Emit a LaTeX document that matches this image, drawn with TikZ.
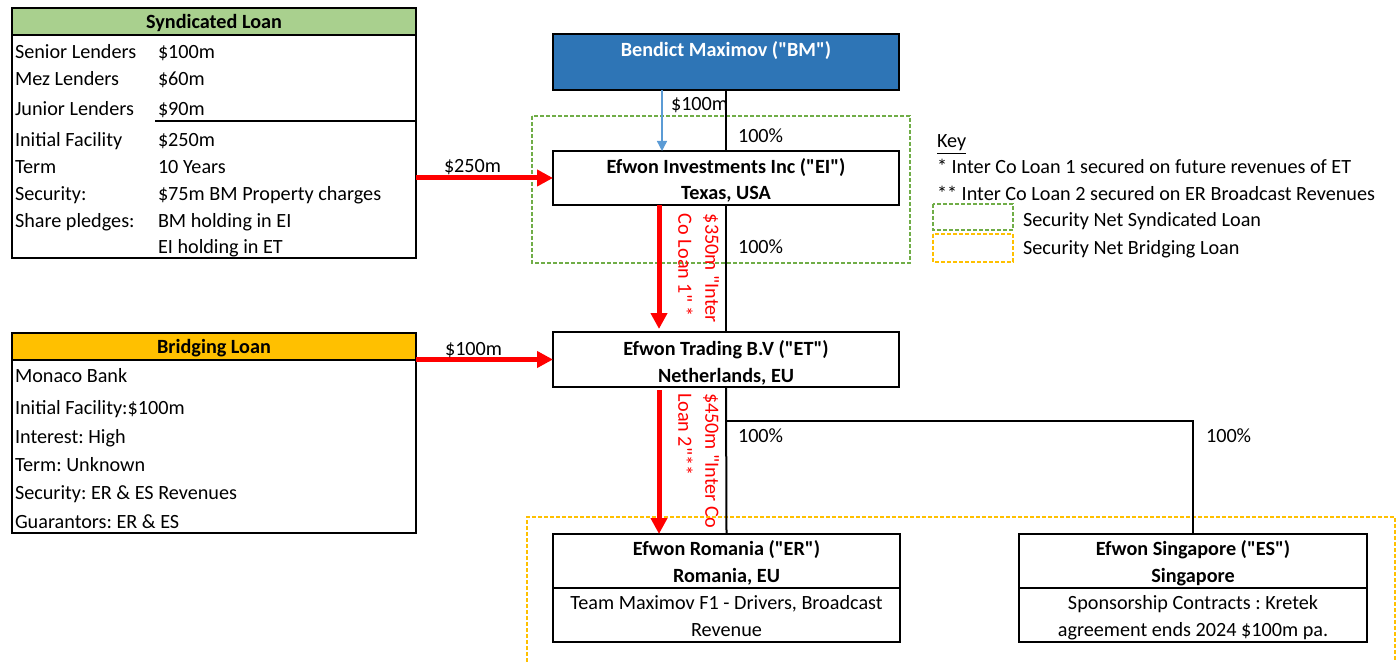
\documentclass[tikz,border=0pt]{standalone}
\usepackage{fontspec}
\setmainfont{Carlito}
\newfontfamily\calfont{Carlito}
\frenchspacing
\usetikzlibrary{arrows.meta,calc}
\definecolor{synhead}{HTML}{A9D08E}
\definecolor{brihead}{HTML}{FFC000}
\definecolor{bmfill}{HTML}{2E75B6}
\definecolor{bluearr}{HTML}{5B9BD5}
\definecolor{netgreen}{HTML}{70AD47}
\definecolor{netorange}{HTML}{FFC000}
\begin{document}
\begin{tikzpicture}[x=0.5pt,y=-0.5pt,
  every node/.style={font=\calfont\fontsize{10.1pt}{13pt}\selectfont, inner sep=0pt, outer sep=0pt},
  box/.style={draw=black, line width=1pt, inner sep=0pt},
  txt/.style={anchor=west, text height=8.5pt, text depth=2pt},
  ctxt/.style={anchor=center, text height=8.5pt, text depth=2pt},
  bigarrow/.style={draw=red, line width=2.5pt, -{Triangle[length=8pt,width=8pt]}},
  thinarrow/.style={draw=bluearr, line width=0.7pt, -{Triangle[length=5pt,width=5pt]}},
  tree/.style={draw=black, line width=1pt},
  rtxt/.style={rotate=-90, anchor=north west, align=left, text=red,
    font=\calfont\fontsize{10.1pt}{13.5pt}\selectfont},
  greennet/.style={draw=netgreen, line width=0.6pt, dash pattern=on 2pt off 1pt},
  orangenet/.style={draw=netorange, line width=0.6pt, dash pattern=on 2pt off 1pt}
]
\useasboundingbox (0,0) rectangle (1400,662);

% ---------- Syndicated loan table ----------
\node[box, fill=synhead, minimum width=202pt, minimum height=13.5pt] (synhead) at (214,21.5) {};
\node[ctxt] (synheadt) at (214,22) {\textbf{Syndicated Loan}};
\node[box, minimum width=202pt, minimum height=111.5pt] (synbody) at (214,146.5) {};
\draw[line width=1pt] (155,121) -- (synbody.east |- 0,121);
\node[txt] (s1a) at (15,52) {Senior Lenders};
\node[txt] (s1b) at (158,52) {\$100m};
\node[txt] (s2a) at (15,79) {Mez Lenders};
\node[txt] (s2b) at (158,79) {\$60m};
\node[txt] (s3a) at (15,109) {Junior Lenders};
\node[txt] (s3b) at (158,109) {\$90m};
\node[txt] (s4a) at (15,140) {Initial Facility};
\node[txt] (s4b) at (158,140) {\$250m};
\node[txt] (s5a) at (15,167) {Term};
\node[txt] (s5b) at (158,167) {10 Years};
\node[txt] (s6a) at (15,194) {Security:};
\node[txt] (s6b) at (158,194) {\$75m BM Property charges};
\node[txt] (s7a) at (15,221) {Share pledges:};
\node[txt] (s7b) at (158,221) {BM holding in EI};
\node[txt] (s8b) at (158,247) {EI holding in ET};

% ---------- Bridging loan table ----------
\node[box, fill=brihead, minimum width=202pt, minimum height=13.5pt] (brihead) at (214,346.5) {};
\node[ctxt] (briheadt) at (214,347) {\textbf{Bridging Loan}};
\node[box, minimum width=202pt, minimum height=86.5pt] (bribody) at (214,446.5) {};
\node[txt] (b1) at (15,376) {Monaco Bank};
\node[txt] (b2) at (15,408) {Initial Facility:\$100m};
\node[txt] (b3) at (15,437) {Interest: High};
\node[txt] (b4) at (15,465) {Term: Unknown};
\node[txt] (b5) at (15,493) {Security: ER \& ES Revenues};
\node[txt] (b6) at (15,522) {Guarantors: ER \& ES};

% ---------- Security nets ----------
\draw[greennet] (532,116) rectangle (910,263);
\draw[orangenet] (527,662) |- (1395,517) -- (1395,662);

% ---------- Entities ----------
\node[box, fill=bmfill, minimum width=173pt, minimum height=28pt] (bm) at (726,62) {};
\node[ctxt, text=white] (bmt) at (726,50) {\textbf{Bendict Maximov ("BM")}};

\node[box, fill=white, minimum width=173pt, minimum height=27pt] (ei) at (726,178) {};
\node[ctxt] (ei1) at (726,167) {\textbf{Efwon Investments Inc ("EI")}};
\node[ctxt] (ei2) at (726,193) {\textbf{Texas, USA}};

\node[box, fill=white, minimum width=173pt, minimum height=27.5pt] (et) at (726,359.5) {};
\node[ctxt] (et1) at (726,349) {\textbf{Efwon Trading B.V ("ET")}};
\node[ctxt] (et2) at (726,376) {\textbf{Netherlands, EU}};

\node[box, fill=white, minimum width=173.5pt, minimum height=27pt] (er) at (726.5,561) {};
\node[box, fill=white, minimum width=173.5pt, minimum height=27pt] (erb) at (726.5,615) {};
\node[ctxt] (er1) at (726.5,549) {\textbf{Efwon Romania ("ER")}};
\node[ctxt] (er2) at (726.5,576) {\textbf{Romania, EU}};
\node[ctxt] (er3) at (726.5,603) {Team Maximov F1 - Drivers, Broadcast};
\node[ctxt] (er4) at (726.5,630) {Revenue};

\node[box, fill=white, minimum width=174pt, minimum height=27pt] (es) at (1193,561) {};
\node[box, fill=white, minimum width=174pt, minimum height=27pt] (esb) at (1193,615) {};
\node[ctxt] (es1) at (1193,549) {\textbf{Efwon Singapore ("ES")}};
\node[ctxt] (es2) at (1193,576) {\textbf{Singapore}};
\node[ctxt] (es3) at (1193,603) {Sponsorship Contracts : Kretek};
\node[ctxt] (es4) at (1193,630) {agreement ends 2024 \$100m pa.};

% ---------- Ownership lines ----------
\draw[tree] (bm.south) -- (ei.north);
\draw[tree] (ei.south) -- (et.north);
\draw[tree] (et.south) -- (er.north);
\coordinate (branch) at (726,421);
\draw[tree] (branch) -| (es.north);
\node[txt] (p1) at (738,136) {100\%};
\node[txt] (p2) at (738,247) {100\%};
\node[txt] (p3) at (738,436) {100\%};
\node[txt] (p4) at (1206,436) {100\%};

% ---------- Money flows ----------
\draw[thinarrow] (bm.south -| 662,0) -- (ei.north -| 662,0);
\node[txt] (m100) at (671,104) {\$100m};

\draw[bigarrow] (synbody.east |- ei.west) -- (ei.west);
\node[txt] (m250) at (444,166) {\$250m};

\draw[bigarrow] (bribody.east |- et.west) -- (et.west);
\node[txt] (m100b) at (445,349) {\$100m};

\draw[bigarrow] (ei.south -| 659,0) -- ($(et.north -| 659,0)+(0,-3)$);
\node[rtxt] (l1) at (719,214) {\$350m "Inter\\Co Loan 1" *};

\draw[bigarrow] ($(et.south -| 659,0)+(0,3)$) -- (er.north -| 659,0);
\node[rtxt] (l2) at (719,393) {\$450m "Inter Co\\Loan 2"**};

% ---------- Key ----------
\node[txt] (k0) at (937,141) {\underline{Key}};
\node[txt] (k1) at (937,167) {* Inter Co Loan 1 secured on future revenues of ET};
\node[txt] (k2) at (937,194) {** Inter Co Loan 2 secured on ER Broadcast Revenues};
\draw[greennet] (933,204) rectangle (1013,230);
\node[txt] (k3) at (1023,220) {Security Net Syndicated Loan};
\draw[orangenet] (933,234) rectangle (1013,262);
\node[txt] (k4) at (1023,248) {Security Net Bridging Loan};
\end{tikzpicture}
\end{document}
